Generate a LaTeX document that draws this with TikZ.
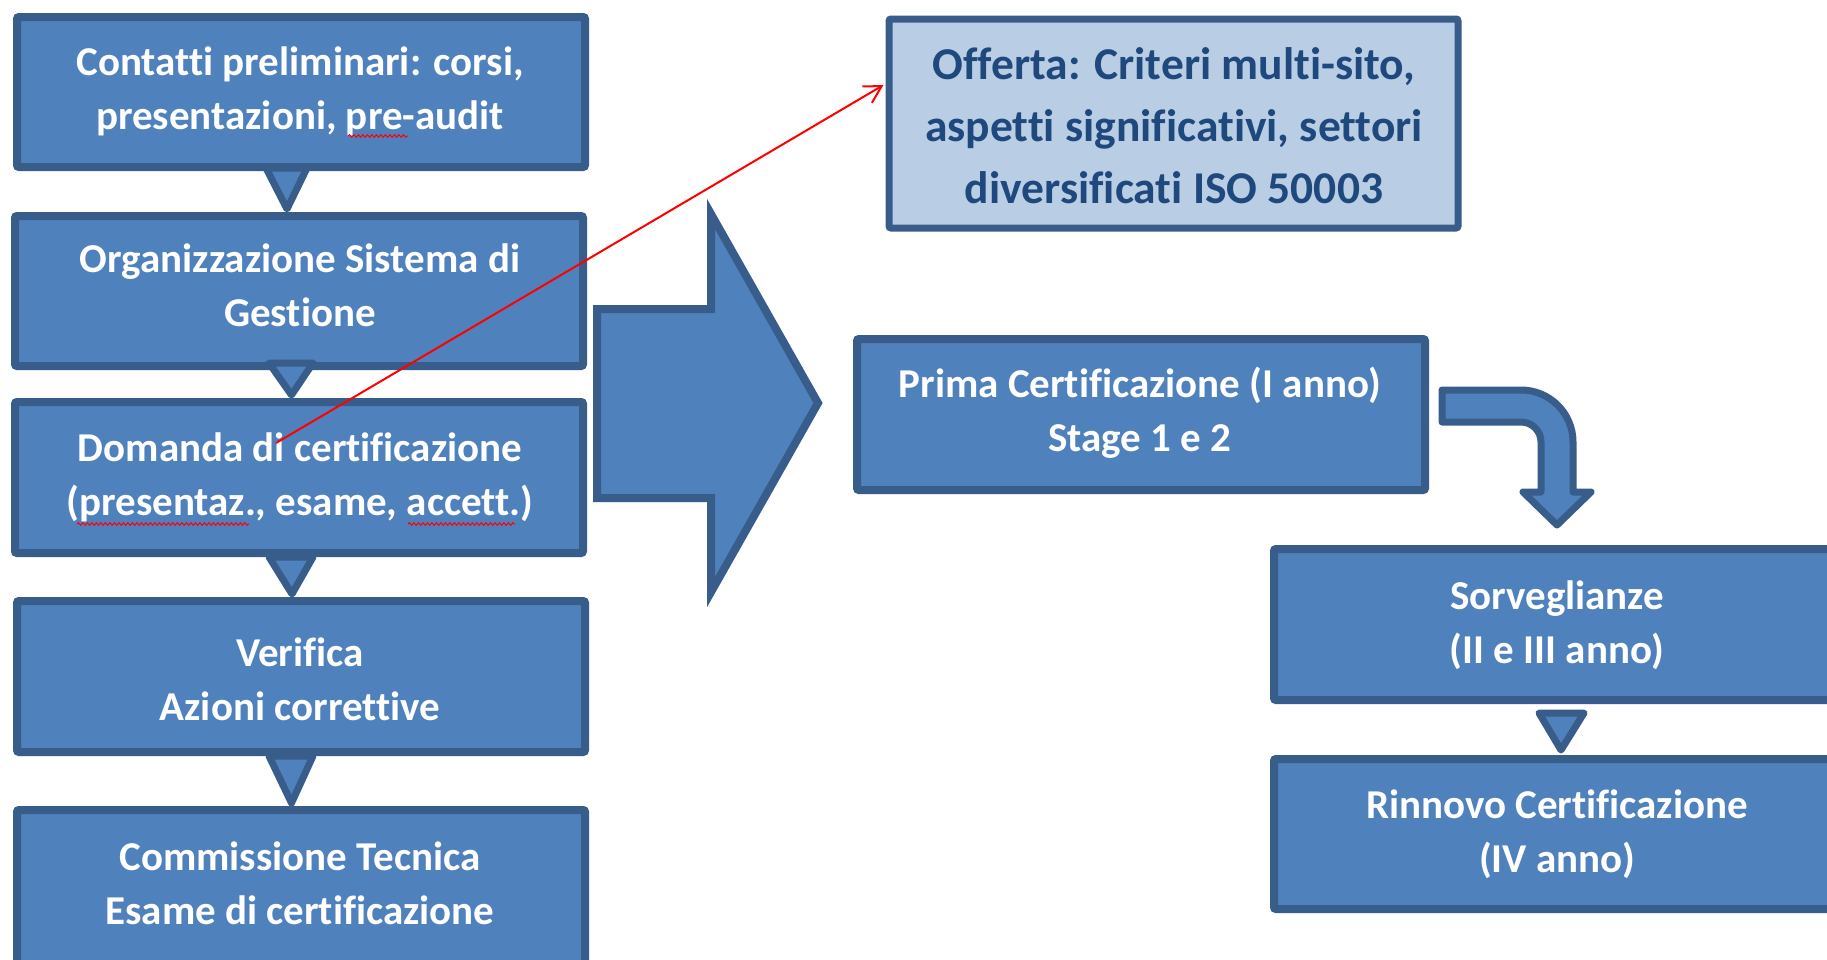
\documentclass[tikz,border=0pt]{standalone}
\usepackage{fontspec}
\setmainfont{Carlito}[Ligatures=CommonOff]
\usetikzlibrary{arrows.meta,calc,decorations.pathmorphing}
\definecolor{boxfill}{HTML}{4F81BD}
\definecolor{boxline}{HTML}{385D8A}
\definecolor{offfill}{HTML}{B9CDE5}
\definecolor{offtext}{HTML}{1F497D}
\newcommand\lstrut{\rule[-0.3\baselineskip]{0pt}{\baselineskip}}
\begin{document}
\begin{tikzpicture}[x=1pt,y=-1pt,
  box/.style={draw=boxline, fill=boxfill, line width=8pt, rounded corners=2pt, inner sep=0pt, minimum width=568pt},
  offbox/.style={draw=boxline, fill=offfill, line width=7pt, rounded corners=2pt, inner sep=0pt},
  txt/.style={text=white, font=\bfseries\fontsize{41}{54}\selectfont, align=center, inner sep=0pt},
  offtxt/.style={text=offtext, font=\bfseries\fontsize{45.5}{62}\selectfont, align=center, inner sep=0pt},
  tri/.style={draw=boxline, fill=boxfill, line width=7pt, line join=round},
  blockarrow/.style={draw=boxline, fill=boxfill, line width=8pt, line join=miter},
  bentarrow/.style={draw=boxline, fill=boxfill, line width=7pt, line join=round},
  redline/.style={draw=red, line width=2pt, -{Straight Barb[length=17pt,width=19pt,line width=2pt]}},
  squig/.style={draw=red, line width=1pt, decorate, decoration={snake, amplitude=1.3pt, segment length=4.5pt}}
]
\path[use as bounding box, clip] (0,0) rectangle (1827,959);
\fill[white] (0,0) rectangle (1827,959);

% left column boxes
\node[box, minimum height=150pt] (b1) at (301,92) {};
\node[box, minimum height=150pt] (b2) at (299,291) {};
\node[box, minimum height=151pt] (b3) at (299,477.5) {};
\node[box, minimum height=151pt] (b4) at (301,676.5) {};
\node[box, minimum height=200pt] (b5) at (301,910) {};

% right boxes
\node[offbox, minimum width=569pt, minimum height=209pt] (off) at (1173.5,123.5) {};
\node[box, minimum height=151pt] (pr) at (1141,414.5) {};
\node[box, minimum height=151pt] (sv) at (1558,624.5) {};
\node[box, minimum height=150pt] (rn) at (1558,834) {};

% triangles between boxes
\draw[tri] ($(b1.south)+(-35,-3)$) -- ($(b1.south)+(6,-3)$) -- ($(b2.north)+(-12,-3)$) -- cycle;
\draw[tri] ($(b2.south)+(-30,-7)$) -- ($(b2.south)+(14,-7)$) -- ($(b3.north)+(-7.5,-3)$) -- cycle;
\draw[tri] ($(b3.south)+(-30,0)$) -- ($(b3.south)+(14,0)$) -- ($(b4.north)+(-9,-3)$) -- cycle;
\draw[tri] ($(b4.south)+(-32,0)$) -- ($(b4.south)+(12,0)$) -- ($(b5.north)+(-9.5,-3)$) -- cycle;
\draw[tri] ($(sv.south)+(-19,9)$) -- ($(sv.south)+(26,9)$) -- ($(rn.north)+(3,-5)$) -- cycle;

% big block arrow
\draw[blockarrow] (597,309) -- (711,309) -- (711,214) -- (818,403) -- (711,592) -- (711,498) -- (597,498) -- cycle;

% bent arrow
\draw[bentarrow] (1442,390) -- (1521,390) arc (-90:0:52) -- (1573,492) -- (1591,492) -- (1557,525) -- (1523,492) -- (1541,492) -- (1541,442) arc (0:-90:20) -- (1442,422) -- cycle;

% texts
\node[txt] (t1) at (300,92) {\lstrut Contatti preliminari: corsi,\\\lstrut presentazioni, pre-audit};
\node[txt] (t2) at (300,289) {\lstrut Organizzazione Sistema di\\\lstrut Gestione};
\node[txt] (t3) at (300,478) {\lstrut Domanda di certificazione\\\lstrut (presentaz., esame, accett.)};
\node[txt] (t4) at (300,683) {\lstrut Verifica\\\lstrut Azioni correttive};
\node[txt] (t5) at (300,887) {\lstrut Commissione Tecnica\\\lstrut Esame di certificazione};
\node[offtxt] (t6) at (1174,129) {\lstrut Offerta: Criteri multi-sito,\\\lstrut aspetti significativi, settori\\\lstrut diversificati ISO 50003};
\node[txt] (t7) at (1140,414) {\lstrut Prima Certificazione (I anno)\\\lstrut Stage 1 e 2};
\node[txt] (t8) at (1557,626) {\lstrut Sorveglianze\\\lstrut (II e III anno)};
\node[txt] (t9) at (1557,835) {\lstrut Rinnovo Certificazione\\\lstrut (IV anno)};

% spell-check squiggles
\draw[squig] (348,136) -- (408,136);
\draw[squig] (77,524) -- (249,524);
\draw[squig] (408,524) -- (515,524);

% red connector
\coordinate (rs) at (276,443);
\draw[redline] (rs) -- ($(off.west)+(-2,-38.5)$);
\end{tikzpicture}
\end{document}
